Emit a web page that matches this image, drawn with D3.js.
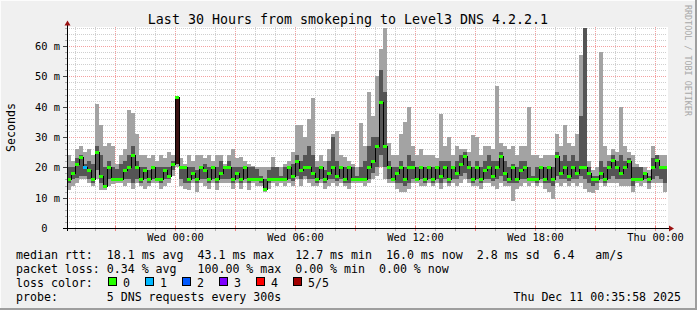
<!DOCTYPE html>
<html>
<head>
<meta charset="utf-8">
<script src="https://cdn.jsdelivr.net/npm/d3@7"></script>
<style>
  html, body { margin: 0; padding: 0; background: #f0f0f0; }
  svg { display: block; }
  svg text { font-family: "DejaVu Sans Mono", monospace; white-space: pre; }
</style>
</head>
<body>
<svg id="chart"></svg>
<script>
// one step = 12 minutes, 150 steps = 30 hours
const stepMinutes = 12;
const startTime = new Date(2025, 11, 9, 18, 35, 58);
const endTime = new Date(2025, 11, 11, 0, 35, 58);

// median rtt per step (ms)
const medianMs = [
  16, 18, 21, 23.5, 20, 19, 16, 25, 17, 14,
  20, 16, 16, 16, 19, 20, 24, 20, 16, 19,
  16, 20, 16, 16, 19, 17, 21, 43.1, 20, 20,
  16, 18, 16, 20, 19, 16, 20, 16, 18, 20,
  20, 16, 18, 16, 20, 16, 16, 16, 16, 12.7,
  16, 16, 16, 16, 16, 20, 17, 22, 19, 20,
  20, 18, 16, 20, 16, 18, 20, 17, 20, 16,
  20, 16, 16, 16, 16, 20, 22, 27, 41.6, 27,
  20, 16, 18, 20, 16, 20, 20, 16, 20, 16,
  20, 16, 20, 17, 20, 16, 20, 18, 21, 23.6,
  20, 16, 20, 16, 19, 20, 17, 20, 23.6, 18,
  16, 20, 16, 19, 20, 16, 16, 16, 20, 16,
  20, 16, 23.6, 18, 20, 17, 20, 18, 20, 20,
  18, 16, 16, 18, 16, 20, 22.4, 20, 18, 20,
  22, 16, 16, 16, 18, 16, 20, 22.4, 20, 20
];
// sorted pings: fastest, 2nd, 4th, slowest (ms)
const pingMin = [
  12.5, 14, 15, 16, 16, 15, 14, 16, 12.5, 12.5,
  14, 14.5, 15, 15, 14, 15, 13, 15, 14, 13,
  14, 15, 15, 13, 14, 15, 17, 20, 14, 13,
  12.5, 15, 12, 15, 14, 13, 15, 12.5, 15, 15,
  15, 13, 15, 13, 15, 12.5, 15, 14, 14, 12,
  13, 15, 14, 15, 14, 15, 14, 16, 14, 16,
  15, 14, 14, 15, 13, 14, 15, 14, 15, 14,
  13, 15, 15, 15, 14, 15, 16, 17, 20, 16,
  15, 15, 13, 12, 12, 13, 15, 15, 14, 14,
  15, 14, 15, 13, 15, 14, 15, 14, 15, 16,
  15, 14, 14, 13, 15, 15, 14, 13, 15, 14,
  14, 9, 13, 14, 15, 14, 15, 14, 15, 13,
  12, 9.5, 15, 14, 15, 14, 15, 14, 15, 13,
  12, 11.5, 12.5, 15, 14, 15, 15, 15, 14, 14,
  14, 12, 15, 14, 15, 13, 15, 15, 15, 12
];
const ping2 = [
  15, 16, 16.5, 17, 17, 16, 15, 19, 15, 13.5,
  16, 15.5, 15.5, 16, 16, 16, 15, 16, 15, 16,
  15, 16, 15.5, 15, 16, 16, 19, 21, 16, 15,
  15, 16, 15, 16, 16, 15, 16, 15, 16, 16,
  16, 15, 16, 15, 16, 15, 15.5, 15.5, 15, 12.5,
  15, 15.5, 15.5, 15.5, 15.5, 16, 15.5, 17, 16, 17,
  16, 16, 15, 16, 15, 16, 16, 15.5, 16, 15,
  15, 15.5, 15.5, 15.5, 15.5, 16, 18, 20, 24, 20,
  16, 15.5, 15, 15, 14, 15, 16, 15.5, 16, 15,
  16, 15, 16, 15, 16, 15, 16, 16, 17, 18,
  16, 15, 16, 15, 16, 16, 15.5, 16, 17, 15.5,
  15, 15, 15, 16, 16, 15.5, 15.5, 15, 16, 15,
  15, 14, 17, 16, 16, 15.5, 16, 16, 17, 16,
  15, 14, 15, 16, 15, 16, 17, 16, 16, 16,
  16, 14, 15.5, 15.5, 16, 15, 16, 17, 16, 15
];
const ping4 = [
  20, 20, 23, 24, 21, 22, 21, 27, 24, 20,
  22, 20, 19.5, 21, 22, 24, 27, 22, 20, 20,
  19, 20, 20, 20, 20, 20, 22, 43.1, 20, 20,
  20, 20, 19, 20, 21, 20, 20, 20, 22, 20,
  22, 20, 20, 20, 20, 20, 20, 19.5, 17, 16,
  19, 20, 20, 17, 20, 20, 21, 24, 22, 24,
  27, 24, 20, 20, 19, 22, 30, 22, 20, 20,
  20, 20, 17, 20, 22, 27, 30, 30, 52, 45,
  22, 20, 20, 22, 20, 24, 22, 20, 20, 20,
  20, 20, 20, 22, 22, 22, 20, 22, 24, 25,
  22, 20, 22, 20, 22, 24, 22, 22, 25, 22,
  20, 21, 20, 22, 22, 20, 17, 20, 20, 20,
  20, 20, 25, 22, 24, 22, 24, 22, 37, 66,
  20, 17, 17, 22, 20, 22, 24, 22, 24, 22,
  23, 20, 20, 20, 18.5, 17, 23, 24, 20, 20
];
const pingMax = [
  24, 22, 26, 27, 25, 26, 24, 41, 34, 27,
  28, 27, 21, 24, 26, 39, 38, 31, 24, 24,
  23, 24, 22, 24, 23, 25, 24, 43.1, 23, 21,
  24, 22, 24, 24, 23, 24, 22, 24, 24, 21,
  24, 26, 23, 23.5, 22, 21, 20.5, 20, 20, 20,
  20, 23.5, 20, 20, 21, 22, 25, 34, 34, 30,
  36, 43, 22, 24, 22, 26, 31, 32, 24, 23.5,
  22, 21, 20, 34.5, 27, 45, 37, 50, 59, 66,
  28, 24, 24, 31, 35, 40, 27, 24, 26, 24,
  24, 24, 23, 37.6, 27, 30, 24, 27, 26, 26,
  25, 30.6, 30, 24, 27, 27, 26, 47, 28, 27,
  26, 27, 24, 27, 27, 40, 24, 24, 23, 24,
  24, 24, 31, 27, 34, 28, 27, 31, 57, 66,
  22, 19, 20, 58, 27, 24, 26, 25, 40, 27,
  25, 24, 21, 20, 20, 19, 27, 24, 24, 24
];
// lost pings out of 5 per step
const lossCount = [
  0, 0, 0, 0, 1, 0, 0, 0, 0, 0,
  0, 0, 0, 0, 0, 0, 0, 0, 0, 0,
  0, 0, 0, 0, 0, 0, 0, 5, 0, 0,
  0, 0, 0, 0, 0, 0, 0, 0, 0, 0,
  0, 0, 0, 0, 0, 0, 0, 0, 0, 0,
  0, 0, 0, 0, 0, 0, 0, 0, 0, 0,
  0, 0, 0, 0, 0, 0, 0, 0, 0, 0,
  0, 0, 0, 0, 0, 0, 0, 0, 0, 0,
  0, 0, 0, 0, 0, 0, 0, 0, 0, 0,
  0, 0, 0, 0, 0, 0, 0, 0, 0, 0,
  0, 0, 0, 0, 0, 0, 0, 0, 0, 0,
  0, 0, 0, 0, 0, 0, 0, 0, 0, 0,
  0, 0, 0, 0, 0, 0, 0, 0, 0, 0,
  0, 0, 0, 0, 0, 0, 0, 0, 0, 0,
  0, 0, 0, 0, 0, 0, 0, 0, 0, 0
];

const yTickValues = [0, 10, 20, 30, 40, 50, 60];
const yTickLabels = ['0', '10 m', '20 m', '30 m', '40 m', '50 m', '60 m'];
const lossColors = ['#26ff00', '#00b8ff', '#0059ff', '#7e00ff', '#ff0000', '#a10000'];
const lossLabels = ['0', '1', '2', '3', '4', '5/5'];

const titleText = 'Last 30 Hours from smokeping to Level3 DNS 4.2.2.1';
const yAxisTitle = 'Seconds';
const legendLines = [
  'median rtt:  18.1 ms avg  43.1 ms max   12.7 ms min  16.0 ms now  2.8 ms sd  6.4   am/s',
  'packet loss: 0.34 % avg   100.00 % max  0.00 % min  0.00 % now',
  'loss color:',
  'probe:       5 DNS requests every 300s'
];
const dateText = 'Thu Dec 11 00:35:58 2025';
const watermark = 'RRDTOOL / TOBI OETIKER';

class SmokeChart {
    constructor(config) {
        this.config = {
            parentElement: config.parentElement,
            containerWidth: config.containerWidth || 697,
            containerHeight: config.containerHeight || 310,
            margin: config.margin || { top: 27, right: 30, bottom: 82, left: 67 },
            yMax: config.yMax || 66.3
        };
        this.initApp();
    }
    initApp() {
        const app = this;
        const m = app.config.margin;
        app.width = app.config.containerWidth - m.left - m.right;
        app.height = app.config.containerHeight - m.top - m.bottom;
        app.xScale = d3.scaleTime().domain([startTime, endTime]).range([0, app.width]);
        app.yScale = d3.scaleLinear().domain([0, app.config.yMax]).range([app.height, 0]);
        app.svg = d3.select(app.config.parentElement)
            .attr('width', app.config.containerWidth)
            .attr('height', app.config.containerHeight);
        app.chart = app.svg.append('g')
            .attr('transform', `translate(${m.left},${m.top})`);
        app.steps = medianMs.map((d, i) => ({
            t0: new Date(+startTime + i * stepMinutes * 60000),
            t1: new Date(+startTime + (i + 1) * stepMinutes * 60000),
            med: d, lo: pingMin[i], lo2: ping2[i], hi2: ping4[i], hi: pingMax[i], loss: lossCount[i]
        }));
        app.renderApp();
    }
    renderApp() {
        const app = this;
        const W = app.config.containerWidth, H = app.config.containerHeight;
        const x = app.xScale, y = app.yScale;
        const py = v => Math.round(y(v)) + 0.5;

        // frame
        app.svg.insert('rect', ':first-child').attr('width', W).attr('height', H).attr('fill', '#f0f0f0');
        app.svg.append('path').attr('d', `M0,0.5H${W}M0.5,0V${H}`).attr('stroke', '#fcfcfc').attr('stroke-width', 1);
        app.svg.append('path').attr('d', `M0,${H - 1}H${W}M${W - 1},0V${H}`).attr('stroke', '#9e9e9e').attr('stroke-width', 2);

        // canvas
        app.chart.append('rect').attr('width', app.width + 1).attr('height', app.height).attr('fill', '#ffffff');

        // grid
        const grid = app.chart.append('g').attr('shape-rendering', 'crispEdges').attr('stroke-dasharray', '1,1');
        const minorY = d3.range(2, app.config.yMax, 2).filter(v => v % 10 !== 0);
        grid.selectAll('.gy').data(minorY).join('line')
            .attr('x1', 0).attr('x2', app.width).attr('y1', py).attr('y2', py)
            .attr('stroke', '#cfcfcf');
        const hours = d3.timeHour.range(startTime, endTime);
        grid.selectAll('.gx').data(hours.filter(h => h.getHours() % 3 !== 0)).join('line')
            .attr('x1', d => Math.round(x(d)) + 0.5).attr('x2', d => Math.round(x(d)) + 0.5)
            .attr('y1', 0).attr('y2', app.height).attr('stroke', '#cfcfcf');
        grid.selectAll('.my').data(yTickValues.slice(1)).join('line')
            .attr('x1', 0).attr('x2', app.width).attr('y1', py).attr('y2', py)
            .attr('stroke', '#f4a0a0');
        grid.selectAll('.mx').data(hours.filter(h => h.getHours() % 3 === 0)).join('line')
            .attr('x1', d => Math.round(x(d)) + 0.5).attr('x2', d => Math.round(x(d)) + 0.5)
            .attr('y1', 0).attr('y2', app.height).attr('stroke', '#f4a0a0');

        // smoke
        const smoke = app.chart.append('g').attr('shape-rendering', 'crispEdges');
        smoke.selectAll('.light').data(app.steps).join('rect')
            .attr('x', d => x(d.t0)).attr('width', d => x(d.t1) - x(d.t0))
            .attr('y', d => Math.round(y(d.hi))).attr('height', d => Math.round(y(d.lo)) - Math.round(y(d.hi)))
            .attr('fill', '#a3a3a3');
        smoke.selectAll('.dark').data(app.steps).join('rect')
            .attr('x', d => x(d.t0)).attr('width', d => x(d.t1) - x(d.t0))
            .attr('y', d => Math.round(y(d.hi2))).attr('height', d => Math.round(y(d.lo2)) - Math.round(y(d.hi2)))
            .attr('fill', d => d.loss === 5 ? '#3a1212' : '#555555');

        // median step line with loss-coloured segments
        const pts = app.steps.map(d => [x(d.t0), Math.round(y(d.med)) + 0.5]);
        pts.push([x(app.steps[app.steps.length - 1].t1), pts[pts.length - 1][1]]);
        app.chart.append('path')
            .attr('d', d3.line().curve(d3.curveStepAfter)(pts))
            .attr('fill', 'none').attr('stroke', '#000').attr('stroke-width', 1)
            .attr('shape-rendering', 'crispEdges');
        app.chart.append('g').attr('shape-rendering', 'crispEdges')
            .selectAll('rect').data(app.steps).join('rect')
            .attr('x', d => x(d.t0)).attr('width', d => x(d.t1) - x(d.t0))
            .attr('y', d => Math.round(y(d.med)) - 1).attr('height', 3)
            .attr('fill', d => lossColors[d.loss < 5 ? d.loss : 0]);

        // axes
        const axes = app.chart.append('g').attr('shape-rendering', 'crispEdges');
        hours.forEach(h => {
            const hx = Math.round(x(h)) + 0.5;
            const major = h.getHours() % 3 === 0;
            axes.append('line').attr('x1', hx).attr('x2', hx)
                .attr('y1', major ? app.height - 2 : app.height).attr('y2', app.height + 3)
                .attr('stroke', major ? '#f08080' : '#b0b0b0');
        });
        d3.range(2, app.config.yMax, 2).forEach(v => {
            axes.append('line').attr('x1', v % 10 === 0 ? -4 : -2).attr('x2', 0)
                .attr('y1', py(v)).attr('y2', py(v)).attr('stroke', v % 10 === 0 ? '#444' : '#b0b0b0');
        });
        axes.append('line').attr('x1', -4).attr('x2', app.width + 3)
            .attr('y1', app.height + 0.5).attr('y2', app.height + 0.5).attr('stroke', '#000');
        axes.append('line').attr('x1', 0.5).attr('x2', 0.5)
            .attr('y1', app.height + 3).attr('y2', -4).attr('stroke', '#000');
        app.chart.append('path').attr('d', `M-2.5,-1.5L0.5,-6.5L3.5,-1.5Z`).attr('fill', '#9b1111');
        app.chart.append('path')
            .attr('d', `M${app.width + 2},${app.height - 2.5}L${app.width + 7},${app.height + 0.5}L${app.width + 2},${app.height + 3.5}Z`)
            .attr('fill', '#9b1111');

        const xAxis = d3.axisBottom(x).tickValues(hours.filter(h => h.getHours() % 6 === 0))
            .tickFormat(d3.timeFormat('%a %H:%M')).tickSize(0).tickPadding(6);
        const xAxisG = app.chart.append('g').attr('transform', `translate(0,${app.height})`).call(xAxis);
        const yAxis = d3.axisLeft(y).tickValues(yTickValues)
            .tickFormat((d, i) => yTickLabels[i]).tickSize(0).tickPadding(7);
        const yAxisG = app.chart.append('g').call(yAxis);
        [xAxisG, yAxisG].forEach(g => {
            g.select('.domain').remove();
            g.selectAll('text').attr('font-family', 'DejaVu Sans Mono').attr('font-size', 10.4).attr('fill', '#000');
        });
        yAxisG.selectAll('.tick').filter(d => d === 0).select('text').attr('dx', -12.5);

        // titles
        app.svg.append('text').attr('x', 348).attr('y', 23.5).attr('text-anchor', 'middle')
            .attr('font-size', 13.3).text(titleText);
        app.svg.append('text').attr('transform', 'translate(14.5,127.5) rotate(-90)').attr('text-anchor', 'middle')
            .attr('font-size', 11.6).text(yAxisTitle);
        app.svg.append('text').attr('transform', 'translate(685,5) rotate(90)')
            .attr('font-size', 8.4).attr('fill', '#a8a8a8').text(watermark);

        // legend
        const legend = app.svg.append('g').attr('font-size', 11.6);
        legendLines.forEach((line, i) => {
            legend.append('text').attr('x', 16).attr('y', 258.5 + i * 14).text(line);
        });
        lossLabels.forEach((lab, i) => {
            const bx = 108 + i * 37;
            legend.append('rect').attr('x', bx + 0.5).attr('y', 277.5).attr('width', 8).attr('height', 8)
                .attr('fill', lossColors[i]).attr('stroke', '#000').attr('shape-rendering', 'crispEdges');
            legend.append('text').attr('x', bx + 15).attr('y', 286.5).text(lab);
        });
        legend.append('text').attr('x', 681).attr('y', 300.5).attr('text-anchor', 'end').text(dateText);
    }
}

new SmokeChart({ parentElement: '#chart' });
</script>
</body>
</html>
